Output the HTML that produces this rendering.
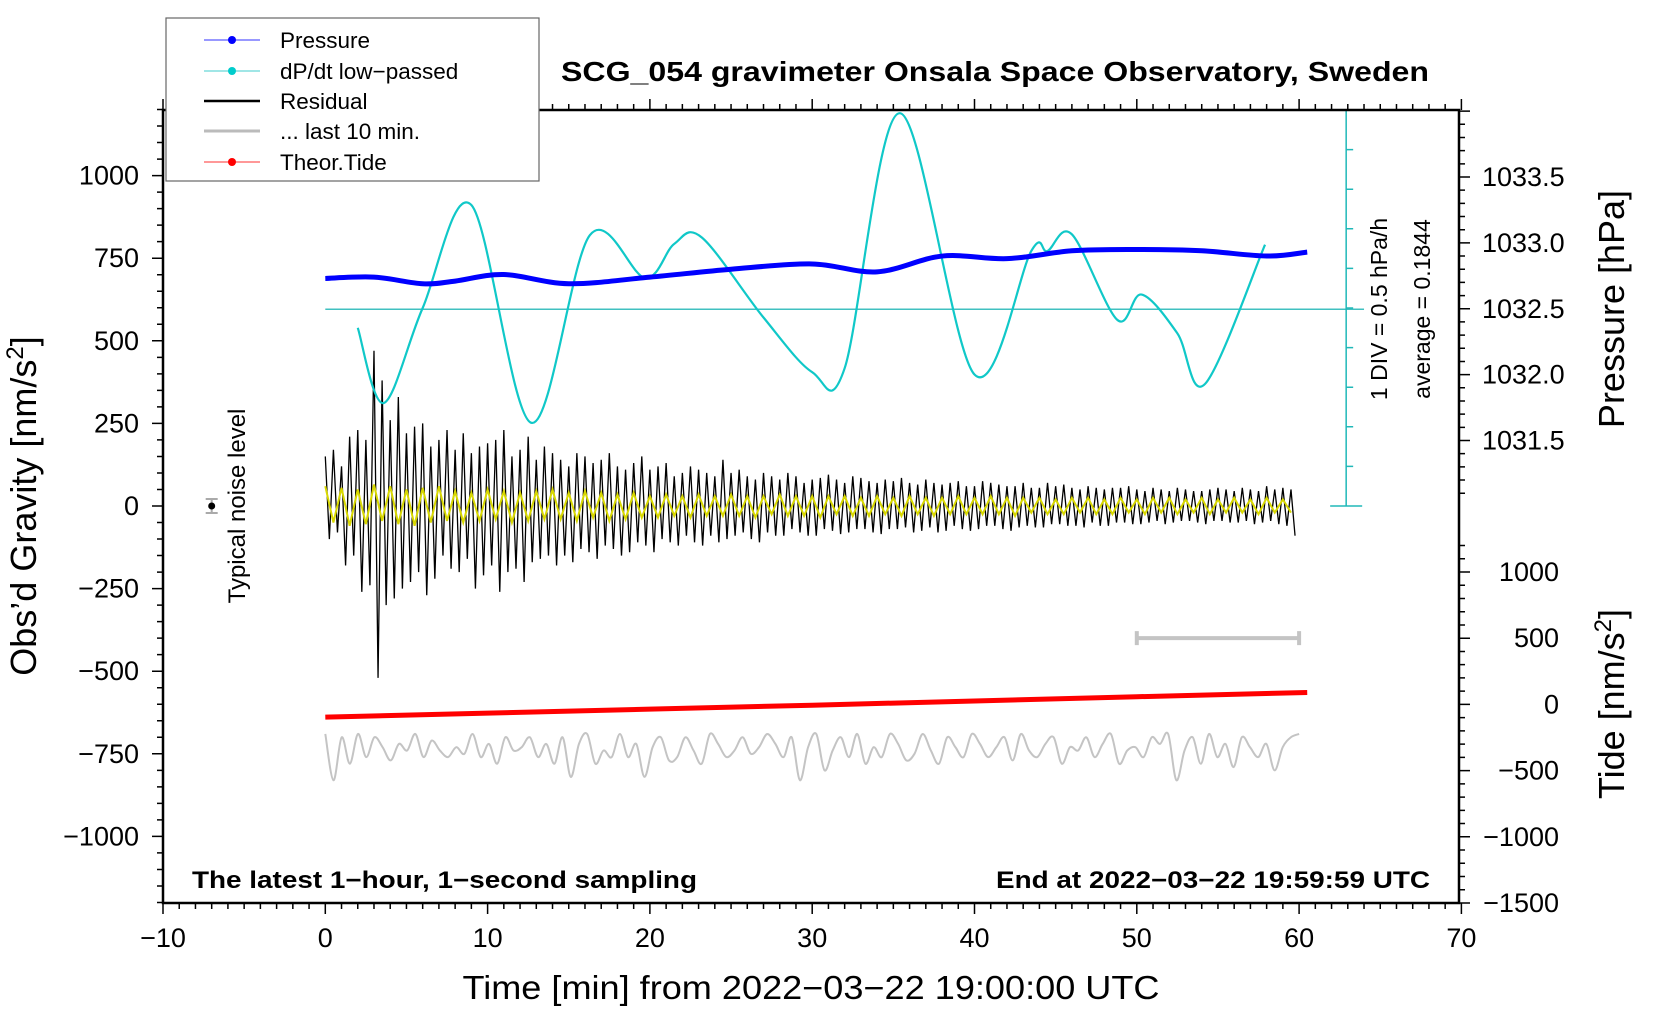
<!DOCTYPE html>
<html><head><meta charset="utf-8"><style>
html,body{margin:0;padding:0;background:#fff}
svg{display:block}
text{font-family:"Liberation Sans",sans-serif;fill:#000}
</style></head><body>
<svg id="chart" width="1660" height="1020" viewBox="0 0 1660 1020" xmlns="http://www.w3.org/2000/svg">
<rect width="1660" height="1020" fill="#fff"/>
<g id="marks"></g>
<g id="axes"></g>
<text x="995" y="81" font-size="28" font-weight="bold" text-anchor="middle" textLength="868" lengthAdjust="spacingAndGlyphs">SCG_054 gravimeter Onsala Space Observatory, Sweden</text>
<text x="192" y="888" font-size="24" font-weight="bold" textLength="505" lengthAdjust="spacingAndGlyphs">The latest 1−hour, 1−second sampling</text>
<text x="1430" y="888" font-size="24" font-weight="bold" text-anchor="end" textLength="434" lengthAdjust="spacingAndGlyphs">End at 2022−03−22 19:59:59 UTC</text>
<text x="811" y="999" font-size="33" text-anchor="middle" textLength="697" lengthAdjust="spacingAndGlyphs">Time [min] from 2022−03−22 19:00:00 UTC</text>
<text transform="translate(36,506) rotate(-90)" font-size="36" text-anchor="middle">Obs’d Gravity [nm/s<tspan font-size="24" dy="-13">2</tspan><tspan dy="13">]</tspan></text>
<text transform="translate(1624,309) rotate(-90)" font-size="36" text-anchor="middle">Pressure [hPa]</text>
<text transform="translate(1624,704) rotate(-90)" font-size="36" text-anchor="middle">Tide [nm/s<tspan font-size="24" dy="-13">2</tspan><tspan dy="13">]</tspan></text>
<text transform="translate(245,506) rotate(-90)" font-size="24" text-anchor="middle">Typical noise level</text>
<text transform="translate(1387,309) rotate(-90)" font-size="23" text-anchor="middle">1 DIV = 0.5 hPa/h</text>
<text transform="translate(1430,309) rotate(-90)" font-size="23" text-anchor="middle">average = 0.1844</text>
<g>
<rect x="166" y="18" width="373" height="163" fill="#fff" stroke="#666" stroke-width="1.2"/>
<line x1="204" y1="40" x2="260" y2="40" stroke="#3030ff" stroke-width="1"/><circle cx="232" cy="40" r="4" fill="#0000ff"/>
<text x="280" y="48" font-size="22.5">Pressure</text>
<line x1="204" y1="71" x2="260" y2="71" stroke="#40cccc" stroke-width="1"/><circle cx="232" cy="71" r="4" fill="#00cccc"/>
<text x="280" y="79" font-size="22.5">dP/dt low−passed</text>
<line x1="204" y1="101" x2="260" y2="101" stroke="#000" stroke-width="2.5"/>
<text x="280" y="109" font-size="22.5">Residual</text>
<line x1="204" y1="131" x2="260" y2="131" stroke="#bbb" stroke-width="3"/>
<text x="280" y="139" font-size="22.5">... last 10 min.</text>
<line x1="204" y1="162" x2="260" y2="162" stroke="#ff3030" stroke-width="1"/><circle cx="232" cy="162" r="4" fill="#ff0000"/>
<text x="280" y="170" font-size="22.5">Theor.Tide</text>
</g>
</svg>
<script>
const xTicks = [-10,0,10,20,30,40,50,60,70];
const gTicks = [-1000,-750,-500,-250,0,250,500,750,1000];
const pTicks = [1031.5,1032.0,1032.5,1033.0,1033.5];
const tTicks = [-1500,-1000,-500,0,500,1000];
const pressureMin = [0,3,6,8,11,15,20,25,30,34,38,42,46,50,54,58,60.5];
const pressureVal = [1032.73,1032.74,1032.69,1032.71,1032.76,1032.69,1032.74,1032.80,1032.84,1032.78,1032.90,1032.88,1032.94,1032.95,1032.94,1032.90,1032.93];
const dpdtMin = [2,3.6,6,9,12.7,16.3,19.7,21.5,23.2,27,30,32,35.4,40,43.5,44.5,46,48.8,50.3,52.5,54.2,57.9];
const dpdtVal = [-0.05,-1.0,0.2,1.5,-1.25,1.12,0.58,1.01,1.09,0.08,-0.61,-0.56,2.66,-0.64,0.92,0.92,1.13,0.05,0.37,-0.12,-0.76,1.0];
const dpdtAverage = 0.1844;
const tideMin = [0,10,20,30,40,50,60.5];
const tideVal = [-96,-66,-36,-6,26,58,90];
const residualVal = [150,-100,170,-80,120,-180,210,-150,230,-260,200,-240,470,-520,380,-300,260,-280,330,-250,220,-230,240,-200,250,-270,180,-220,200,-150,230,-190,170,-200,220,-160,160,-250,180,-210,190,-180,200,-260,230,-200,150,-190,170,-230,210,-170,140,-160,180,-150,160,-180,140,-150,120,-170,160,-130,150,-140,130,-160,140,-120,160,-130,120,-150,110,-140,130,-110,150,-120,110,-140,120,-100,130,-110,90,-120,100,-90,120,-110,110,-120,100,-90,90,-110,140,-100,100,-90,110,-80,90,-100,80,-110,100,-80,90,-90,80,-90,100,-70,90,-80,70,-90,80,-90,85,-70,95,-75,80,-85,70,-80,90,-70,85,-70,75,-80,70,-85,80,-70,75,-70,85,-65,70,-80,65,-75,80,-65,70,-80,65,-75,70,-60,75,-70,60,-75,60,-70,75,-60,70,-60,65,-70,60,-75,60,-65,70,-60,55,-65,55,-65,70,-55,60,-55,65,-60,55,-60,50,-65,60,-50,55,-60,50,-60,55,-50,55,-50,60,-55,50,-55,45,-50,55,-45,50,-55,45,-50,55,-45,50,-45,45,-50,45,-55,50,-45,55,-45,50,-50,45,-50,55,-45,50,-55,45,-50,60,-45,50,-55,55,-60,50,-90];
const yellowVal = [60,-50,55,-60,50,-55,65,-45,60,-55,50,-60,55,-50,60,-45,45,-50,40,-45,50,-40,45,-50,40,-45,45,-40,50,-40,40,-45,45,-35,40,-45,35,-40,40,-35,30,-35,35,-30,30,-35,35,-30,30,-30,35,-30,30,-35,30,-25,35,-30,30,-30,30,-35,30,-25,30,-30,25,-30,30,-25,25,-30,30,-25,25,-30,25,-25,30,-25,25,-25,30,-25,25,-30,25,-20,25,-25,20,-25,25,-20,25,-25,20,-25,25,-20,20,-25,25,-20,25,-25,20,-20,25,-25,20,-20,25,-20,20,-25,25,-20,20,-20];
const grayVal = [-690,-830,-700,-780,-690,-760,-700,-730,-770,-720,-740,-690,-760,-710,-740,-760,-730,-750,-690,-760,-720,-780,-700,-740,-730,-700,-760,-720,-780,-700,-820,-720,-690,-780,-740,-760,-690,-760,-720,-820,-730,-700,-770,-760,-700,-740,-780,-690,-720,-760,-740,-700,-750,-730,-690,-720,-760,-700,-830,-730,-690,-800,-740,-700,-760,-690,-780,-730,-760,-690,-720,-770,-750,-690,-740,-780,-700,-730,-760,-690,-720,-760,-730,-700,-770,-690,-740,-760,-720,-700,-780,-730,-740,-700,-760,-720,-690,-780,-740,-730,-760,-700,-720,-690,-830,-740,-700,-780,-690,-760,-720,-790,-700,-730,-760,-720,-800,-730,-700,-690];
const barMin = [50,60];
const barGrav = -400;

const X = m => 163 + (m + 10) * 16.23;
const YG = g => 506 - g * 0.3304;
const YP = p => 177 - (p - 1033.5) * 131.75;
const YT = t => 903 - (t + 1500) * 0.1324;
const YD = v => 506 - (v + 2.3) / 5 * 396;
const NS = 'http://www.w3.org/2000/svg';
const marks = document.getElementById('marks');
const axes = document.getElementById('axes');
function mk(tag, parent){ const e = document.createElementNS(NS, tag); parent.appendChild(e); return e; }
function smooth(pts){
  let d = 'M' + pts[0][0] + ',' + pts[0][1];
  for (let i = 0; i < pts.length - 1; i++) {
    const p0 = pts[Math.max(0,i-1)], p1 = pts[i], p2 = pts[i+1], p3 = pts[Math.min(pts.length-1,i+2)];
    d += ' C' + (p1[0]+(p2[0]-p0[0])/6) + ',' + (p1[1]+(p2[1]-p0[1])/6) + ' ' + (p2[0]-(p3[0]-p1[0])/6) + ',' + (p2[1]-(p3[1]-p1[1])/6) + ' ' + p2[0] + ',' + p2[1];
  }
  return d;
}
let rp = residualVal.map((v,i) => X(i*60/residualVal.length) + ',' + YG(v)).join(' ');
let res = mk('polyline', marks);


res.setAttribute('points', rp); res.setAttribute('fill','none'); res.setAttribute('stroke','#000'); res.setAttribute('stroke-width','1.3');
let yp = yellowVal.map((v,i) => X(i*60/yellowVal.length) + ',' + YG(v)).join(' ');
let yl = mk('polyline', marks);


yl.setAttribute('points', yp); yl.setAttribute('fill','none'); yl.setAttribute('stroke','#d8d800'); yl.setAttribute('stroke-width','2');
let gp = grayVal.map((v,i) => [X(i*60/(grayVal.length-1)), YG(v)]);
let gl = mk('path', marks);


gl.setAttribute('d', smooth(gp)); gl.setAttribute('fill','none'); gl.setAttribute('stroke','#c4c4c4'); gl.setAttribute('stroke-width','2');
let sb = mk('path', marks);


sb.setAttribute('d', 'M'+X(barMin[0])+','+YG(barGrav)+'H'+X(barMin[1])+'M'+X(barMin[0])+','+(YG(barGrav)-7)+'v14M'+X(barMin[1])+','+(YG(barGrav)-7)+'v14');
sb.setAttribute('stroke','#c4c4c4'); sb.setAttribute('stroke-width','4'); sb.setAttribute('fill','none');
let td = mk('polyline', marks);


td.setAttribute('points', tideMin.map((m,i) => X(m)+','+YT(tideVal[i])).join(' '));
td.setAttribute('fill','none'); td.setAttribute('stroke','#ff0000'); td.setAttribute('stroke-width','5');
let av = mk('line', marks);


av.setAttribute('x1', X(0)); av.setAttribute('x2', X(64)); av.setAttribute('y1', YD(dpdtAverage)); av.setAttribute('y2', YD(dpdtAverage));
av.setAttribute('stroke','#40c0c0'); av.setAttribute('stroke-width','1.5');
let dax = mk('path', marks);


let dd = 'M'+X(62.9)+','+YD(-2.3)+'V'+YD(2.7)+'M'+(X(62.9)-16)+','+YD(-2.3)+'H'+(X(62.9)+16);
for (let k = 1; k <= 10; k++) dd += 'M'+X(62.9)+','+YD(-2.3+k*0.5)+'h7';
dax.setAttribute('d', dd); dax.setAttribute('stroke','#20b8b8'); dax.setAttribute('stroke-width','1.5'); dax.setAttribute('fill','none');
let dc = mk('path', marks);


dc.setAttribute('d', smooth(dpdtMin.map((m,i) => [X(m), YD(dpdtVal[i])])));
dc.setAttribute('fill','none'); dc.setAttribute('stroke','#10c8c8'); dc.setAttribute('stroke-width','2.2');
let pc = mk('path', marks);


pc.setAttribute('d', smooth(pressureMin.map((m,i) => [X(m), YP(pressureVal[i])])));
pc.setAttribute('fill','none'); pc.setAttribute('stroke','#0000ff'); pc.setAttribute('stroke-width','5');
let nb = mk('path', marks);


nb.setAttribute('d', 'M'+(X(-7)-6)+',499h12M'+(X(-7)-6)+',513h12M'+X(-7)+',499v14');
nb.setAttribute('stroke','#aaa'); nb.setAttribute('stroke-width','2');
let nd = mk('circle', marks);


nd.setAttribute('cx', X(-7)); nd.setAttribute('cy', 506); nd.setAttribute('r', 3.5);

let fr = mk('path', axes);


fr.setAttribute('d', 'M163,110H1459V903H163Z'); fr.setAttribute('fill','none'); fr.setAttribute('stroke','#000'); fr.setAttribute('stroke-width','2.5');
let tk = '';
for (let m = -10; m <= 70; m++) { const L = m % 10 === 0 ? 11 : 6; tk += 'M'+X(m)+',903v'+L+'M'+X(m)+',110v-'+L; }
for (let g = -1200; g <= 1200; g += 50) { const L = g % 250 === 0 ? 11 : 6; tk += 'M163,'+YG(g)+'h-'+L; }
for (let p = 1031.1; p <= 1034.0; p += 0.1) { const L = Math.abs(p*2-Math.round(p*2)) < 0.01 ? 11 : 6; tk += 'M1459,'+YP(p)+'h'+L; }
for (let t = -1500; t <= 1200; t += 100) { const L = t % 500 === 0 ? 11 : 6; tk += 'M1459,'+YT(t)+'h'+L; }
let tp = mk('path', axes);


tp.setAttribute('d', tk); tp.setAttribute('stroke','#000'); tp.setAttribute('stroke-width','1.5');
xTicks.forEach(v => {
  const t = mk('text', axes);
  
  
  t.setAttribute('x', X(v)); t.setAttribute('y', 947); t.setAttribute('font-size','27'); t.setAttribute('text-anchor','middle');
  t.textContent = String(v).replace('-', '−');
});
gTicks.forEach(v => {
  const t = mk('text', axes);
  
  
  t.setAttribute('x', 139); t.setAttribute('y', YG(v)+9); t.setAttribute('font-size','27'); t.setAttribute('text-anchor','end');
  t.textContent = String(v).replace('-', '−');
});
pTicks.forEach(v => {
  const t = mk('text', axes);
  
  
  t.setAttribute('x', 1482); t.setAttribute('y', YP(v)+9); t.setAttribute('font-size','27');
  t.textContent = v.toFixed(1);
});
tTicks.forEach(v => {
  const t = mk('text', axes);
  
  
  t.setAttribute('x', 1559); t.setAttribute('y', YT(v)+9); t.setAttribute('font-size','27'); t.setAttribute('text-anchor','end');
  t.textContent = String(v).replace('-', '−');
});
</script>
</body></html>
